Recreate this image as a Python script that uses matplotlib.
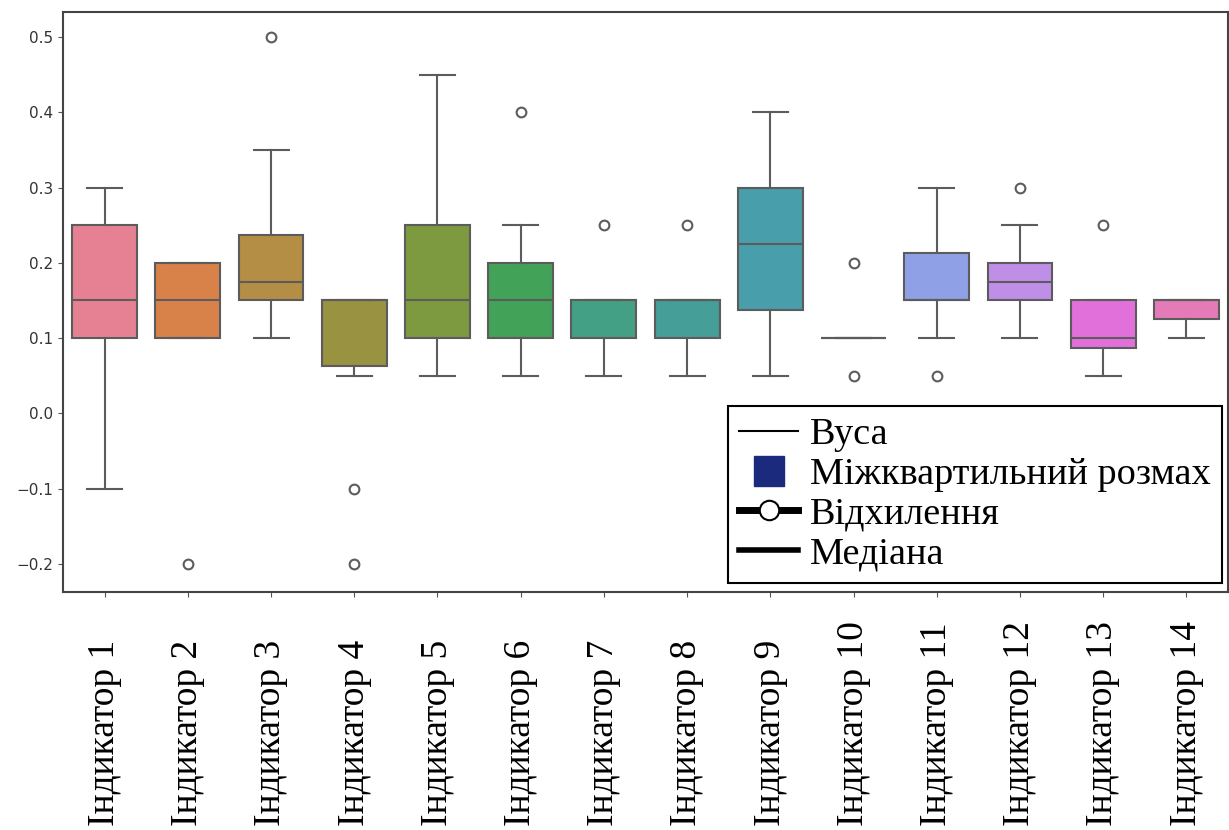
import matplotlib
matplotlib.use("Agg")
import matplotlib.pyplot as plt
from matplotlib.lines import Line2D
import seaborn as sns

# ── Data ─────────────────────────────────────────────────────────────────────
labels   = [f"Індикатор {i}" for i in range(1, 15)]
q1       = [0.10, 0.10, 0.15, 0.0625, 0.10, 0.10, 0.10, 0.10, 0.1375, 0.10, 0.15, 0.15, 0.0875, 0.125]
median   = [0.15, 0.15, 0.175, 0.15, 0.15, 0.15, 0.15, 0.15, 0.225, 0.10, 0.15, 0.175, 0.10, 0.15]
q3       = [0.25, 0.20, 0.2375, 0.15, 0.25, 0.20, 0.15, 0.15, 0.30, 0.10, 0.2125, 0.20, 0.15, 0.15]
whis_lo  = [-0.10, 0.10, 0.10, 0.05, 0.05, 0.05, 0.05, 0.05, 0.05, 0.10, 0.10, 0.10, 0.05, 0.10]
whis_hi  = [0.30, 0.20, 0.35, 0.15, 0.45, 0.25, 0.15, 0.15, 0.40, 0.10, 0.30, 0.25, 0.15, 0.15]
outliers = [[], [-0.2], [0.5], [-0.1, -0.2], [], [0.4], [0.25], [0.25],
            [], [0.2, 0.05], [0.05], [0.30], [0.25], []]

legend_labels = ["Вуса", "Міжквартильний розмах", "Відхилення", "Медіана"]

# ── Style ────────────────────────────────────────────────────────────────────
palette   = sns.color_palette("husl", len(labels), desat=0.75)
line_gray = (0.36, 0.36, 0.36)
SERIF     = ["Liberation Serif", "DejaVu Serif"]

fig = plt.figure(figsize=(12.29, 8.30), dpi=100)
ax = fig.add_axes([63 / 1229, 238 / 830, 1165 / 1229, 580 / 830])

stats = [
    {"label": lab, "q1": a, "med": m, "q3": b, "whislo": lo, "whishi": hi, "fliers": fl}
    for lab, a, m, b, lo, hi, fl in zip(labels, q1, median, q3, whis_lo, whis_hi, outliers)
]
positions = list(range(len(labels)))

bp = ax.bxp(
    stats, positions=positions, widths=0.78, capwidths=0.42,
    patch_artist=True, showfliers=True,
    boxprops=dict(edgecolor=line_gray, linewidth=1.5),
    whiskerprops=dict(color=line_gray, linewidth=1.5),
    capprops=dict(color=line_gray, linewidth=1.5),
    medianprops=dict(color=line_gray, linewidth=1.5),
    flierprops=dict(marker="o", markerfacecolor="none", markeredgecolor=line_gray,
                    markersize=7, markeredgewidth=1.5),
)
for box, col in zip(bp["boxes"], palette):
    box.set_facecolor(col)

ax.set_xlim(-0.5, len(labels) - 0.5)
ax.set_ylim(-0.2372, 0.5332)
ax.set_yticks([-0.2, -0.1, 0.0, 0.1, 0.2, 0.3, 0.4, 0.5])
ax.tick_params(axis="y", labelsize=11, color="#555555", labelcolor="#333333")
ax.tick_params(axis="x", color="#555555", labelcolor="black")
for sp in ax.spines.values():
    sp.set_color("#444444")
    sp.set_linewidth(1.5)

# x labels: rotated, bottom-aligned near figure bottom
ax.set_xticks(positions)
ax.set_xticklabels(labels, rotation=90, va="bottom", ha="center",
                   fontsize=27, family=SERIF)
for t in ax.get_xticklabels():
    t.set_y((4 + 9.7 - 238) / 580)

# ── Legend ───────────────────────────────────────────────────────────────────
handles = [
    Line2D([], [], color="black", linewidth=1.5),
    Line2D([], [], linestyle="none", marker="s", markersize=21,
           markerfacecolor="#1c2a7e", markeredgecolor="#1c2a7e"),
    Line2D([], [], color="black", linewidth=5, marker="o", markersize=14,
           markerfacecolor="white", markeredgecolor="black", markeredgewidth=1.5),
    Line2D([], [], color="black", linewidth=4),
]
leg = ax.legend(handles, legend_labels, loc="lower right",
                bbox_to_anchor=(0.9948, 0.0155), borderaxespad=0,
                prop={"family": SERIF, "size": 27.5},
                fancybox=False, framealpha=1, edgecolor="black",
                handlelength=1.55, handletextpad=0.3, labelspacing=0.13,
                borderpad=0.3)
leg.get_frame().set_linewidth(1.5)

fig.savefig("out.png", dpi=100)
